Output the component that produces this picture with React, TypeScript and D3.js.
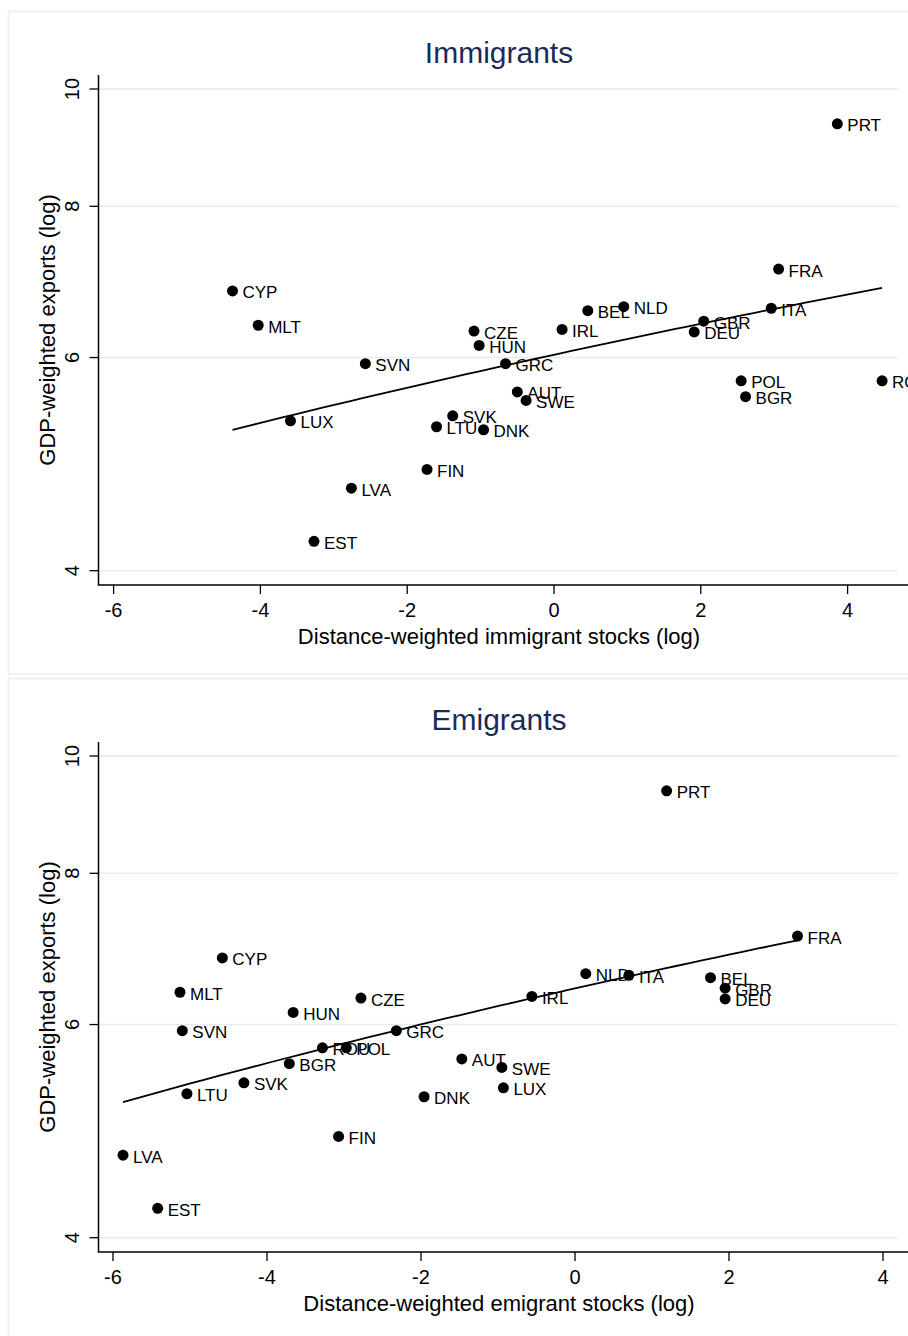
import React from "react";
import * as d3 from "d3";

// country codes, in the same order for every series
const countries = [
  "PRT", "FRA", "CYP", "ITA", "NLD", "BEL", "GBR", "MLT", "IRL", "CZE",
  "DEU", "HUN", "SVN", "GRC", "POL", "ROU", "AUT", "BGR", "SWE", "SVK",
  "LUX", "LTU", "DNK", "FIN", "LVA", "EST"
];

// GDP-weighted exports (same y for both panels)
const exportsW = [
  9.36, 7.10, 6.81, 6.59, 6.61, 6.56, 6.43, 6.38, 6.33, 6.31,
  6.30, 6.14, 5.93, 5.93, 5.74, 5.74, 5.62, 5.57, 5.53, 5.37,
  5.32, 5.26, 5.23, 4.85, 4.68, 4.23
];

// distance-weighted immigrant stocks (log)
const immigrantStocks = [
  3.86, 3.06, -4.38, 2.96, 0.95, 0.46, 2.04, -4.03, 0.11, -1.09,
  1.91, -1.02, -2.57, -0.66, 2.55, 4.47, -0.50, 2.61, -0.38, -1.38,
  -3.59, -1.60, -0.96, -1.73, -2.76, -3.27
];

// distance-weighted emigrant stocks (log)
const emigrantStocks = [
  1.19, 2.89, -4.58, 0.70, 0.14, 1.76, 1.95, -5.13, -0.56, -2.78,
  1.95, -3.66, -5.10, -2.32, -2.97, -3.28, -1.47, -3.71, -0.95, -4.30,
  -0.93, -5.04, -1.96, -3.07, -5.87, -5.42
];

const xTicks = [-6, -4, -2, 0, 2, 4];
const yTicks = [4, 6, 8, 10];

const font = "'Liberation Sans', Arial, Helvetica, sans-serif";
const gridColor = "#e3edf0";
const frameColor = "#eef2f2";

type PanelProps = {
  top: number;
  title: string;
  xLabel: string;
  xs: number[];
  xRange: [number, number];
};

const Panel = ({ top, title, xLabel, xs, xRange }: PanelProps) => {
  const x = d3.scaleLinear().domain([-6, 4]).range(xRange);
  const y = d3.scaleLog().domain([4, 10]).range([top + 570.7, top + 89]);

  const axisTop = top + 75;
  const axisBottom = top + 585;
  const axisLeft = 98.5;

  // linear fit of exports on stocks
  const mx = d3.mean(xs) as number;
  const my = d3.mean(exportsW) as number;
  const sxy = d3.sum(xs, (v, i) => (v - mx) * (exportsW[i] - my));
  const sxx = d3.sum(xs, v => (v - mx) * (v - mx));
  const b = sxy / sxx;
  const a = my - b * mx;
  const [x0, x1] = d3.extent(xs) as [number, number];
  const fitX = d3.range(0, 51).map(i => x0 + ((x1 - x0) * i) / 50);
  const fitLine = d3
    .line<number>()
    .x(v => x(v))
    .y(v => y(a + b * v));

  return (
    <g fontFamily={font}>
      <rect
        x={8.5}
        y={top + 11.5}
        width={930}
        height={662.5}
        fill="white"
        stroke={frameColor}
        strokeWidth={2}
      />
      <text
        x={499}
        y={top + 63}
        textAnchor="middle"
        fontSize={30}
        fill="#1c2b55"
      >
        {title}
      </text>

      {yTicks.map(t => (
        <g key={t}>
          <line
            x1={axisLeft}
            x2={898}
            y1={y(t)}
            y2={y(t)}
            stroke={gridColor}
            strokeWidth={1.5}
          />
          <line
            x1={axisLeft - 9}
            x2={axisLeft}
            y1={y(t)}
            y2={y(t)}
            stroke="black"
            strokeWidth={1.3}
          />
          <text
            transform={`translate(79,${y(t)}) rotate(-90)`}
            textAnchor="middle"
            fontSize={20}
          >
            {t}
          </text>
        </g>
      ))}

      {xTicks.map(t => (
        <g key={t}>
          <line
            x1={x(t)}
            x2={x(t)}
            y1={axisBottom}
            y2={axisBottom + 9}
            stroke="black"
            strokeWidth={1.3}
          />
          <text x={x(t)} y={axisBottom + 32} textAnchor="middle" fontSize={20}>
            {t}
          </text>
        </g>
      ))}

      <line x1={axisLeft} x2={axisLeft} y1={axisTop} y2={axisBottom} stroke="black" strokeWidth={1.5} />
      <line x1={axisLeft - 0.75} x2={908} y1={axisBottom} y2={axisBottom} stroke="black" strokeWidth={1.5} />

      <text
        transform={`translate(55,${(axisTop + axisBottom) / 2}) rotate(-90)`}
        textAnchor="middle"
        fontSize={22}
      >
        GDP-weighted exports (log)
      </text>
      <text x={499} y={top + 644} textAnchor="middle" fontSize={22}>
        {xLabel}
      </text>

      <path d={fitLine(fitX) || ""} fill="none" stroke="black" strokeWidth={1.8} />

      {countries.map((c, i) => (
        <g key={c}>
          <circle cx={x(xs[i])} cy={y(exportsW[i])} r={5.5} fill="black" />
          <text x={x(xs[i]) + 10} y={y(exportsW[i]) + 7.5} fontSize={17}>
            {c}
          </text>
        </g>
      ))}
    </g>
  );
};

const App = () => {
  return (
    <div style={{ position: "absolute", left: 0, top: 0 }}>
      <svg width={908} height={1336} style={{ display: "block", background: "white" }}>
        <Panel
          top={0}
          title="Immigrants"
          xLabel="Distance-weighted immigrant stocks (log)"
          xs={immigrantStocks}
          xRange={[113.6, 847.6]}
        />
        <Panel
          top={667}
          title="Emigrants"
          xLabel="Distance-weighted emigrant stocks (log)"
          xs={emigrantStocks}
          xRange={[113, 883]}
        />
      </svg>
    </div>
  );
};

export default App;
